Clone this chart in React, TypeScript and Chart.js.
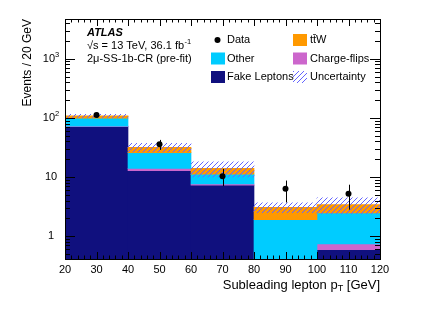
import React, { useEffect, useRef } from "react";
import { Chart, registerables } from "chart.js";

Chart.register(...registerables);

// ---- data ----
const binLabels = ["20-40", "40-60", "60-80", "80-100", "100-120"];
const binCenters = [30, 50, 70, 90, 110];
const fakeLeptons = [71, 12.8, 7.3, 0, 0.59];
const chargeFlips = [1.5, 1.2, 0.3, 0, 0.15];
const other = [26.5, 11.8, 3.6, 1.9, 1.73];
const ttW = [9, 6, 2.8, 1.17, 0.95];
const uncertainty = [7, 5.2, 4, 0.58, 1.02];
const dataValues = [112, 35.8, 10.3, 6.3, 5.2];
const dataErrUp = [10.6, 6.6, 3.4, 2.4, 2.2];
const dataErrDown = [10.6, 7.1, 3.3, 2.6, 2.4];

const xTickValues = [20, 30, 40, 50, 60, 70, 80, 90, 100, 110, 120];
const xTickLabels = ["20", "30", "40", "50", "60", "70", "80", "90", "100", "110", "120"];
const yTickValues = [1, 10, 100, 1000];
const yTickBase = ["1", "10", "10", "10"];
const yTickExp = ["", "", "2", "3"];

const X_MIN = 20;
const X_MAX = 120;
const Y_MIN = 0.41;
const Y_MAX = 4700;

const COL_FAKE = "#10107e";
const COL_CF = "#cc66cc";
const COL_OTHER = "#00ccff";
const COL_TTW = "#ff9900";
const COL_HATCH = "#6464ff";
const FONT = "'Liberation Sans', Arial, Helvetica, sans-serif";

function makeHatch(): CanvasPattern | string {
  const c = document.createElement("canvas");
  const s = 5;
  c.width = s;
  c.height = s;
  const g = c.getContext("2d");
  if (!g) return COL_HATCH;
  g.strokeStyle = COL_HATCH;
  g.lineWidth = 1;
  g.beginPath();
  g.moveTo(-1, s + 1);
  g.lineTo(s + 1, -1);
  g.moveTo(-1, 1);
  g.lineTo(1, -1);
  g.moveTo(s - 1, s + 1);
  g.lineTo(s + 1, s - 1);
  g.stroke();
  const p = g.createPattern(c, "repeat");
  return p || COL_HATCH;
}

export default function App() {
  const ref = useRef<HTMLCanvasElement | null>(null);

  useEffect(() => {
    const canvas = ref.current;
    if (!canvas) return;
    const hatch = makeHatch();

    const clip = (v: number) => Math.max(v, Y_MIN);
    // cumulative stacks
    const l1 = fakeLeptons.map((v) => v);
    const l2 = l1.map((v, i) => v + chargeFlips[i]);
    const l3 = l2.map((v, i) => v + other[i]);
    const l4 = l3.map((v, i) => v + ttW[i]);
    const fakeBars = l1.map((v) => [Y_MIN, clip(v)]);
    const cfBars = l1.map((v, i) => [clip(v), clip(l2[i])]);
    const otherBars = l2.map((v, i) => [clip(v), clip(l3[i])]);
    const ttwBars = l3.map((v, i) => [clip(v), clip(l4[i])]);
    const uncBars = l4.map((v, i) => [clip(v - uncertainty[i]), clip(v + uncertainty[i])]);

    const barCommon = {
      type: "bar" as const,
      grouped: false,
      barPercentage: 1,
      categoryPercentage: 1,
      borderWidth: 0,
      xAxisID: "x",
      yAxisID: "y",
    };

    const decorPlugin = {
      id: "decor",
      afterDatasetsDraw(chart: any) {
        const ctx = chart.ctx as CanvasRenderingContext2D;
        const xs = chart.scales.x2;
        const ys = chart.scales.y;
        // error bars
        ctx.save();
        ctx.strokeStyle = "#000";
        ctx.lineWidth = 1;
        dataValues.forEach((v, i) => {
          const px = Math.round(xs.getPixelForValue(binCenters[i])) + 0.5;
          const yUp = ys.getPixelForValue(v + dataErrUp[i]);
          const yDn = ys.getPixelForValue(clip(v - dataErrDown[i]));
          ctx.beginPath();
          ctx.moveTo(px, yUp);
          ctx.lineTo(px, yDn);
          ctx.stroke();
        });
        ctx.restore();
      },
      afterDraw(chart: any) {
        const ctx = chart.ctx as CanvasRenderingContext2D;
        const a = chart.chartArea;
        const xs = chart.scales.x2;
        const ys = chart.scales.y;
        ctx.save();
        ctx.strokeStyle = "#000";
        ctx.lineWidth = 1;
        // x ticks (major every 10, minor every 2)
        for (let v = X_MIN; v <= X_MAX; v += 2) {
          const px = Math.round(xs.getPixelForValue(v)) + 0.5;
          const len = v % 10 === 0 ? 7 : 3.5;
          ctx.beginPath();
          ctx.moveTo(px, a.bottom);
          ctx.lineTo(px, a.bottom - len);
          ctx.moveTo(px, a.top);
          ctx.lineTo(px, a.top + len);
          ctx.stroke();
        }
        // y ticks
        for (let dec = -1; dec <= 3; dec++) {
          for (let m = 1; m <= 9; m++) {
            const v = m * Math.pow(10, dec);
            if (v < Y_MIN || v > Y_MAX) continue;
            const py = Math.round(ys.getPixelForValue(v)) + 0.5;
            const len = m === 1 ? 10 : 5;
            ctx.beginPath();
            ctx.moveTo(a.left, py);
            ctx.lineTo(a.left + len, py);
            ctx.moveTo(a.right, py);
            ctx.lineTo(a.right - len, py);
            ctx.stroke();
          }
        }
        // frame
        ctx.strokeRect(Math.round(a.left) + 0.5, Math.round(a.top) + 0.5, Math.round(a.right - a.left), Math.round(a.bottom - a.top));

        ctx.fillStyle = "#000";
        // x tick labels
        ctx.font = `11px ${FONT}`;
        ctx.textAlign = "center";
        ctx.textBaseline = "middle";
        xTickValues.forEach((v, i) => {
          ctx.fillText(xTickLabels[i], xs.getPixelForValue(v), a.bottom + 11);
        });
        // y tick labels
        yTickValues.forEach((v, i) => {
          const py = ys.getPixelForValue(v);
          ctx.font = `11px ${FONT}`;
          const wb = ctx.measureText(yTickBase[i]).width;
          ctx.font = `7.5px ${FONT}`;
          const we = yTickExp[i] ? ctx.measureText(yTickExp[i]).width : 0;
          const total = wb + we;
          const left = 51 - total / 2;
          ctx.textAlign = "left";
          ctx.font = `11px ${FONT}`;
          ctx.fillText(yTickBase[i], left, py);
          if (yTickExp[i]) {
            ctx.font = `7.5px ${FONT}`;
            ctx.fillText(yTickExp[i], left + wb, py - 4);
          }
        });
        // axis titles
        ctx.font = `13px ${FONT}`;
        ctx.textAlign = "right";
        ctx.textBaseline = "middle";
        const t1 = "Subleading lepton p";
        const t2 = " [GeV]";
        const w2 = ctx.measureText(t2).width;
        ctx.font = `9px ${FONT}`;
        const wT = ctx.measureText("T").width;
        ctx.font = `13px ${FONT}`;
        const ty = a.bottom + 26;
        ctx.fillText(t2, a.right, ty);
        ctx.font = `9px ${FONT}`;
        ctx.fillText("T", a.right - w2, ty + 4);
        ctx.font = `13px ${FONT}`;
        ctx.fillText(t1, a.right - w2 - wT, ty);

        ctx.font = `12px ${FONT}`;
        ctx.save();
        ctx.translate(28, a.top);
        ctx.rotate(-Math.PI / 2);
        ctx.textAlign = "right";
        ctx.textBaseline = "middle";
        ctx.fillText("Events / 20 GeV", 0, 0);
        ctx.restore();

        // ATLAS label
        ctx.textAlign = "left";
        ctx.textBaseline = "middle";
        ctx.font = `italic bold 11px ${FONT}`;
        ctx.fillText("ATLAS", 87, 33);
        ctx.font = `11px ${FONT}`;
        const s1 = "\u221As = 13 TeV, 36.1 fb";
        ctx.fillText(s1, 87, 46);
        const ws1 = ctx.measureText(s1).width;
        ctx.font = `7.5px ${FONT}`;
        ctx.fillText("-1", 87 + ws1 + 0.5, 42);
        ctx.font = `11px ${FONT}`;
        ctx.fillText("2\u03BC-SS-1b-CR (pre-fit)", 87, 59);

        // legend
        const rows = [40, 58.5, 77];
        const col1Box = 211;
        const col2Box = 293;
        const boxW = 14;
        const boxH = 12;
        // Data
        ctx.beginPath();
        ctx.arc(217.5, rows[0], 3, 0, Math.PI * 2);
        ctx.fill();
        ctx.fillText("Data", 227, rows[0]);
        ctx.fillStyle = COL_OTHER;
        ctx.fillRect(col1Box, rows[1] - boxH / 2, boxW, boxH);
        ctx.fillStyle = "#000";
        ctx.fillText("Other", 227, rows[1]);
        ctx.fillStyle = COL_FAKE;
        ctx.fillRect(col1Box, rows[2] - boxH / 2, boxW, boxH);
        ctx.fillStyle = "#000";
        ctx.fillText("Fake Leptons", 227, rows[2]);
        ctx.fillStyle = COL_TTW;
        ctx.fillRect(col2Box, rows[0] - boxH / 2, boxW, boxH);
        ctx.fillStyle = "#000";
        ctx.fillText("tt\u0304W", 310, rows[0]);
        ctx.fillStyle = COL_CF;
        ctx.fillRect(col2Box, rows[1] - boxH / 2, boxW, boxH);
        ctx.fillStyle = "#000";
        ctx.fillText("Charge-flips", 310, rows[1]);
        ctx.fillStyle = hatch as any;
        ctx.fillRect(col2Box, rows[2] - boxH / 2, boxW, boxH);
        ctx.fillStyle = "#000";
        ctx.fillText("Uncertainty", 310, rows[2]);
        ctx.restore();
      },
    };

    const chart = new Chart(canvas, {
      type: "bar",
      data: {
        labels: binLabels,
        datasets: [
          {
            type: "line",
            label: "Data",
            data: dataValues,
            showLine: false,
            pointRadius: 3,
            pointBackgroundColor: "#000",
            pointBorderColor: "#000",
            pointBorderWidth: 0,
            xAxisID: "x",
            yAxisID: "y",
            order: 0,
          } as any,
          { ...barCommon, label: "Uncertainty", data: uncBars, backgroundColor: hatch, order: 1 } as any,
          { ...barCommon, label: "ttW", data: ttwBars, backgroundColor: COL_TTW, order: 2 } as any,
          { ...barCommon, label: "Other", data: otherBars, backgroundColor: COL_OTHER, order: 3 } as any,
          { ...barCommon, label: "Charge-flips", data: cfBars, backgroundColor: COL_CF, order: 4 } as any,
          { ...barCommon, label: "Fake Leptons", data: fakeBars, backgroundColor: COL_FAKE, order: 5 } as any,
        ],
      },
      options: {
        animation: false,
        responsive: false,
        devicePixelRatio: 1,
        layout: { padding: { left: 65, right: 52, top: 19, bottom: 51 } },
        plugins: { legend: { display: false }, tooltip: { enabled: false }, title: { display: false } },
        scales: {
          x: { type: "category", offset: true, display: false, grid: { display: false } },
          x2: { type: "linear", min: X_MIN, max: X_MAX, display: false, offset: false },
          y: { type: "logarithmic", min: Y_MIN, max: Y_MAX, display: false },
        },
      },
      plugins: [decorPlugin],
    } as any);

    return () => chart.destroy();
  }, []);

  return (
    <div style={{ position: "fixed", left: 0, top: 0, width: 432, height: 310, background: "#fff" }}>
      <canvas ref={ref} width={432} height={310} style={{ display: "block" }} />
    </div>
  );
}
